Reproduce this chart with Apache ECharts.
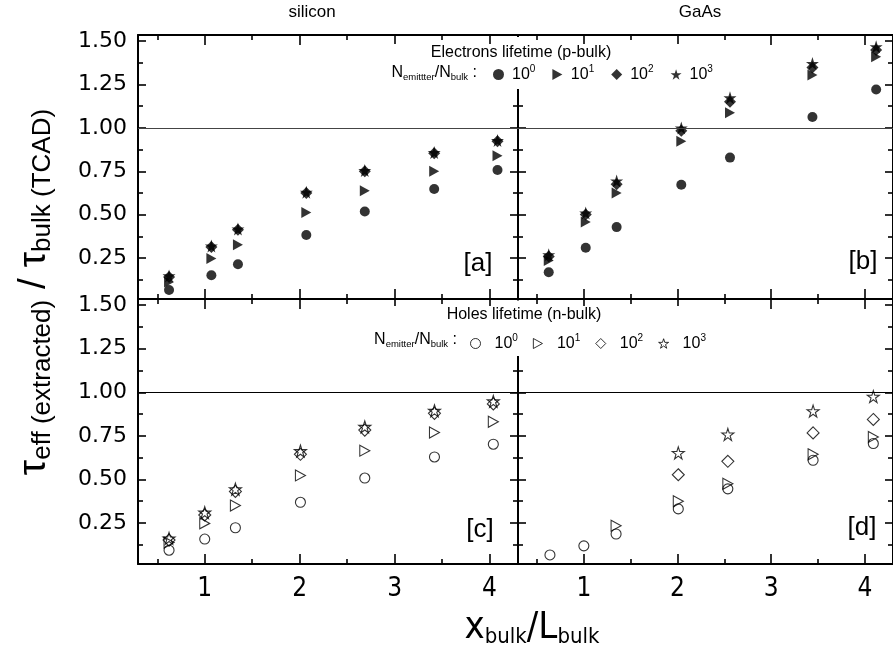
<!DOCTYPE html>
<html>
<head>
<meta charset="utf-8">
<script src="https://cdn.jsdelivr.net/npm/echarts@6/dist/echarts.min.js"></script>
<style>html,body{margin:0;padding:0;background:#fff}#c{width:893px;height:650px}</style>
</head>
<body>
<div id="c"></div>
<script>
// ---------- data ----------
const panelTitles = ['silicon', 'GaAs'];
const panelTags = ['[a]', '[b]', '[c]', '[d]'];
const xMajorTicks = [1, 2, 3, 4];
const xMinorTicks = [0.5, 1.5, 2.5, 3.5];
const yMajorTicks = [0.25, 0.5, 0.75, 1.0, 1.25, 1.5];
const yMinorTicks = [0.125, 0.375, 0.625, 0.875, 1.125, 1.375];

// [a] silicon, electrons (p-bulk)
const xSiE = [0.624, 1.07, 1.35, 2.07, 2.686, 3.417, 4.084];
const siE_0 = [0.067, 0.152, 0.215, 0.383, 0.519, 0.648, 0.758];
const siE_1 = [0.113, 0.248, 0.327, 0.513, 0.638, 0.750, 0.840];
const siE_2 = [0.142, 0.315, 0.413, 0.625, 0.750, 0.854, 0.923];
const siE_3 = [0.148, 0.320, 0.418, 0.630, 0.755, 0.858, 0.928];
// [b] GaAs, electrons (p-bulk)
const xGaE = [0.625, 1.02, 1.35, 2.04, 2.56, 3.44, 4.12];
const gaE_0 = [0.169, 0.310, 0.429, 0.673, 0.829, 1.063, 1.221];
const gaE_1 = [0.237, 0.458, 0.625, 0.923, 1.087, 1.304, 1.410];
const gaE_2 = [0.260, 0.502, 0.675, 0.983, 1.150, 1.348, 1.448];
const gaE_3 = [0.270, 0.510, 0.694, 1.000, 1.173, 1.371, 1.467];
// [c] silicon, holes (n-bulk)
const xSiH = [0.624, 1.0, 1.323, 2.008, 2.686, 3.42, 4.04];
const siH_0 = [0.094, 0.158, 0.223, 0.369, 0.508, 0.629, 0.702];
const siH_1 = [0.138, 0.248, 0.350, 0.523, 0.665, 0.769, 0.831];
const siH_2 = [0.152, 0.296, 0.431, 0.644, 0.783, 0.879, 0.933];
const siH_3 = [0.162, 0.310, 0.444, 0.663, 0.802, 0.894, 0.948];
// [d] GaAs, holes (n-bulk)
const xGaH = [0.638, 1.0, 1.344, 2.008, 2.537, 3.447, 4.09];
const gaH_0 = [0.067, 0.119, 0.187, 0.331, 0.446, 0.610, 0.706];
const gaH_1 = [null, null, 0.235, 0.375, 0.475, 0.644, 0.744];
const gaH_2 = [null, null, null, 0.527, 0.604, 0.767, 0.844];
const gaH_3 = [null, null, null, 0.652, 0.758, 0.892, 0.975];

// ---------- layout ----------
const XMIN = 0.297, XMAX = 4.3, YMIN = 0.015, YMAX = 1.535;
const grids = [
  {left: 138, top: 35, width: 380, height: 264},
  {left: 518, top: 35, width: 380, height: 264},
  {left: 138, top: 299, width: 380, height: 265},
  {left: 518, top: 299, width: 380, height: 265}
];
const FONT = 'Liberation Sans, Arial, sans-serif';
const STAR = 'path://M50,0 L61.2,34.5 L97.6,34.5 L68.2,55.9 L79.4,90.5 L50,69.1 L20.6,90.5 L31.8,55.9 L2.4,34.5 L38.8,34.5 Z';
const TRI_R = 'path://M0,0 L10,5.5 L0,11 Z';

const xAxes = [], yAxes = [];
function mkX(g, pos, vals, len, showLabel, showLine) {
  return {
    type: 'value', gridIndex: g, position: pos, min: XMIN, max: XMAX,
    axisLine: {show: showLine, onZero: false, lineStyle: {color: '#000', width: 2}},
    axisTick: {show: true, inside: true, length: len, customValues: vals, lineStyle: {color: '#000', width: 1.6}},
    axisLabel: {show: showLabel, customValues: vals, margin: 12, color: '#000', fontSize: 26,
      fontFamily: 'Liberation Sans Narrow, DejaVu Sans Condensed, Liberation Sans, sans-serif'},
    splitLine: {show: false}
  };
}
function mkY(g, pos, vals, len, showLabel, showLine) {
  return {
    type: 'value', gridIndex: g, position: pos, min: YMIN, max: YMAX,
    axisLine: {show: showLine, onZero: false, lineStyle: {color: '#000', width: 2}},
    axisTick: {show: true, inside: true, length: len, customValues: vals, lineStyle: {color: '#000', width: 1.6}},
    axisLabel: {show: showLabel, customValues: vals, margin: 11, color: '#000', fontSize: 22,
      fontFamily: 'DejaVu Sans, sans-serif', formatter: v => v.toFixed(2)},
    splitLine: {show: false}
  };
}
for (let g = 0; g < 4; g++) {
  const bottomLabels = g >= 2;
  const leftLabels = (g % 2) === 0;
  xAxes.push(mkX(g, 'bottom', xMajorTicks, 10, bottomLabels, true));
  xAxes.push(mkX(g, 'bottom', xMinorTicks, 5, false, false));
  xAxes.push(mkX(g, 'top', xMajorTicks, 10, false, true));
  xAxes.push(mkX(g, 'top', xMinorTicks, 5, false, false));
  yAxes.push(mkY(g, 'left', yMajorTicks, 8, leftLabels, true));
  yAxes.push(mkY(g, 'left', yMinorTicks, 5, false, false));
  yAxes.push(mkY(g, 'right', yMajorTicks, 8, false, true));
  yAxes.push(mkY(g, 'right', yMinorTicks, 5, false, false));
}

function pairs(xs, ys) {
  const out = [];
  for (let i = 0; i < xs.length; i++) if (ys[i] !== null) out.push([xs[i], ys[i]]);
  return out;
}
const filled = {color: '#000'};
const hollow = {color: 'rgba(0,0,0,0)', borderColor: '#000', borderWidth: 1.1};
const markerDefs = [
  {symbol: 'circle', size: 10},
  {symbol: TRI_R, size: [10, 11]},
  {symbol: 'diamond', size: 12},
  {symbol: STAR, size: 13}
];
const panelData = [
  {xs: xSiE, ys: [siE_0, siE_1, siE_2, siE_3], pre: 'e', style: filled, lineColor: '#444'},
  {xs: xGaE, ys: [gaE_0, gaE_1, gaE_2, gaE_3], pre: 'e', style: filled, lineColor: '#444'},
  {xs: xSiH, ys: [siH_0, siH_1, siH_2, siH_3], pre: 'h', style: hollow, lineColor: '#000'},
  {xs: xGaH, ys: [gaH_0, gaH_1, gaH_2, gaH_3], pre: 'h', style: hollow, lineColor: '#000'}
];
const series = [];
panelData.forEach((p, g) => {
  p.ys.forEach((ys, k) => {
    const m = markerDefs[k];
    const s = {
      type: 'scatter', name: p.pre + k, xAxisIndex: 4 * g, yAxisIndex: 4 * g,
      data: pairs(p.xs, ys), symbol: m.symbol,
      symbolSize: (p.pre === 'h' && k === 3) ? 12 : m.size,
      itemStyle: p.style, z: 3, silent: true
    };
    if (k === 0) {
      s.markLine = {silent: true, symbol: ['none', 'none'], label: {show: false},
        lineStyle: {type: 'solid', color: p.lineColor, width: 1}, data: [{yAxis: 1}]};
    }
    series.push(s);
  });
});

const legendFmt = n => '10{s|' + n.slice(1) + '}';
const legendRich = {s: {fontSize: 10, fontFamily: FONT, color: '#000', padding: [0, 0, 11, 0]}};
const subRich = {
  n: {fontSize: 16, fontFamily: FONT, color: '#000'},
  s: {fontSize: 9.5, fontFamily: FONT, color: '#000', padding: [9, 0, 0, 0]}
};

const graphics = [
  // white boxes behind the legends
  {type: 'rect', shape: {x: 376, y: 44, width: 360, height: 45}, style: {fill: '#fff'}, z: 50},
  {type: 'rect', shape: {x: 508, y: 37, width: 20, height: 8}, style: {fill: '#fff'}, z: 50},
  {type: 'rect', shape: {x: 362, y: 306, width: 354, height: 50}, style: {fill: '#fff'}, z: 50},
  {type: 'rect', shape: {x: 508, y: 300.5, width: 20, height: 6}, style: {fill: '#fff'}, z: 50},
  // titles
  {type: 'text', x: 312, y: 12, z: 60, style: {text: panelTitles[0], font: '17px Liberation Sans', fill: '#000', textAlign: 'center', textVerticalAlign: 'middle'}},
  {type: 'text', x: 700, y: 12, z: 60, style: {text: panelTitles[1], font: '17px Liberation Sans', fill: '#000', textAlign: 'center', textVerticalAlign: 'middle'}},
  // legend headers
  {type: 'text', x: 521, y: 53, z: 60, style: {text: 'Electrons lifetime (p-bulk)', font: '16px Liberation Sans', fill: '#000', textAlign: 'center', textVerticalAlign: 'middle'}},
  {type: 'text', x: 524, y: 315, z: 60, style: {text: 'Holes lifetime (n-bulk)', font: '16px Liberation Sans', fill: '#000', textAlign: 'center', textVerticalAlign: 'middle'}},
  {type: 'text', x: 477, y: 73, z: 60, style: {text: '{n|N}{s|emittter}{n|/N}{s|bulk}{n| :}', rich: subRich, textAlign: 'right', textVerticalAlign: 'middle'}},
  {type: 'text', x: 457, y: 340, z: 60, style: {text: '{n|N}{s|emitter}{n|/N}{s|bulk}{n| :}', rich: subRich, textAlign: 'right', textVerticalAlign: 'middle'}},
  // panel tags
  {type: 'text', x: 478, y: 264, z: 60, style: {text: panelTags[0], font: '26px Liberation Sans', fill: '#000', textAlign: 'center', textVerticalAlign: 'middle'}},
  {type: 'text', x: 863, y: 262, z: 60, style: {text: panelTags[1], font: '26px Liberation Sans', fill: '#000', textAlign: 'center', textVerticalAlign: 'middle'}},
  {type: 'text', x: 480, y: 530, z: 60, style: {text: panelTags[2], font: '26px Liberation Sans', fill: '#000', textAlign: 'center', textVerticalAlign: 'middle'}},
  {type: 'text', x: 862, y: 528, z: 60, style: {text: panelTags[3], font: '26px Liberation Sans', fill: '#000', textAlign: 'center', textVerticalAlign: 'middle'}},
  // axis titles
  {type: 'text', x: 532, y: 628, z: 60, style: {
    text: '{b|x}{s|bulk}{b|/L}{s|bulk}', textAlign: 'center', textVerticalAlign: 'middle',
    rich: {b: {fontSize: 38, fontFamily: 'Liberation Sans Narrow, DejaVu Sans Condensed, Liberation Sans', color: '#000'},
           s: {fontSize: 22, fontFamily: 'Liberation Sans Narrow, DejaVu Sans Condensed, Liberation Sans', color: '#000', padding: [18, 0, 0, 0]}}}},
  {type: 'text', x: 34, y: 292, rotation: Math.PI / 2, z: 60, style: {
    text: '{t|τ}{s|eff (extracted)}{t| / τ}{s|bulk (TCAD)}', textAlign: 'center', textVerticalAlign: 'middle',
    rich: {t: {fontSize: 39, fontFamily: FONT, color: '#000'},
           s: {fontSize: 26, fontFamily: FONT, color: '#000', padding: [17, 0, 0, 0]}}}}
];

const chart = echarts.init(document.getElementById('c'), null, {renderer: 'canvas'});
chart.setOption({
  animation: false,
  backgroundColor: '#fff',
  grid: grids,
  xAxis: xAxes,
  yAxis: yAxes,
  legend: [
    {data: ['e0', 'e1', 'e2', 'e3'], left: 488, top: 59, itemWidth: 11, itemHeight: 11, itemGap: 17, z: 70,
     formatter: legendFmt, textStyle: {fontSize: 16, fontFamily: FONT, color: '#000', rich: legendRich, padding: [0, 0, 0, 3]}, selectedMode: false},
    {data: ['h0', 'h1', 'h2', 'h3'], left: 465, top: 328, itemWidth: 10, itemHeight: 10, itemGap: 15, z: 70,
     itemStyle: {borderWidth: 1},
     formatter: legendFmt, textStyle: {fontSize: 16, fontFamily: FONT, color: '#000', rich: legendRich, padding: [0, 0, 0, 9]}, selectedMode: false}
  ],
  graphic: graphics,
  series: series
});
</script>
</body>
</html>
